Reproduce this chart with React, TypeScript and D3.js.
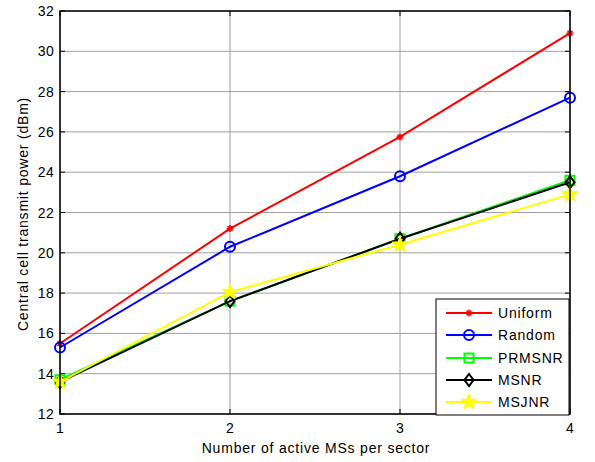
import React from "react";
import * as d3 from "d3";

const xTicks = [1, 2, 3, 4];
const yTicks = [12, 14, 16, 18, 20, 22, 24, 26, 28, 30, 32];
const seriesNames = ["Uniform", "Random", "PRMSNR", "MSNR", "MSJNR"];
const uniform = [15.5, 21.2, 25.75, 30.9];
const random = [15.3, 20.3, 23.8, 27.7];
const prmsnr = [13.7, 17.6, 20.7, 23.6];
const msnr = [13.6, 17.6, 20.7, 23.5];
const msjnr = [13.6, 18.05, 20.4, 22.9];
const colors = ["#ff0000", "#0000ff", "#00ff00", "#000000", "#ffff00"];
const markers = ["asterisk", "circle", "square", "diamond", "star"];

const W = 595, H = 462;
const L = 60, R = 570, T = 11, B = 414;

function Marker({ type, x, y, color }: { type: string; x: number; y: number; color: string }) {
  if (type === "asterisk") {
    const r = 3.5;
    const d = r * 0.707;
    return (
      <g stroke={color} strokeWidth={1.5}>
        <line x1={x - r} y1={y} x2={x + r} y2={y} />
        <line x1={x} y1={y - r} x2={x} y2={y + r} />
        <line x1={x - d} y1={y - d} x2={x + d} y2={y + d} />
        <line x1={x - d} y1={y + d} x2={x + d} y2={y - d} />
      </g>
    );
  }
  if (type === "circle") return <circle cx={x} cy={y} r={5} fill="none" stroke={color} strokeWidth={2} />;
  if (type === "square") return <rect x={x - 4.5} y={y - 4.5} width={9} height={9} fill="none" stroke={color} strokeWidth={2} />;
  if (type === "diamond") {
    const r = 6;
    return <path d={`M${x},${y - r}L${x + r * 0.75},${y}L${x},${y + r}L${x - r * 0.75},${y}Z`} fill="none" stroke={color} strokeWidth={2} />;
  }
  const pts: string[] = [];
  const ro = 8.5, ri = 3.4;
  for (let i = 0; i < 10; i++) {
    const a = -Math.PI / 2 + (i * Math.PI) / 5;
    const rr = i % 2 === 0 ? ro : ri;
    pts.push(`${x + rr * Math.cos(a)},${y + rr * Math.sin(a)}`);
  }
  return <polygon points={pts.join(" ")} fill={color} stroke={color} strokeWidth={1} />;
}

export default function App() {
  const x = d3.scaleLinear().domain([1, 4]).range([L, R]);
  const y = d3.scaleLinear().domain([12, 32]).range([B, T]);
  const data = [uniform, random, prmsnr, msnr, msjnr];
  const line = d3.line<number>().x((_, i) => x(xTicks[i])).y((d) => y(d));
  const font = "'Liberation Sans', Arial, sans-serif";
  const tl = 5;
  const legX = 436, legY = 299, legW = 133, legH = 116;
  const rowY = [313, 335, 358, 380, 402];
  const ls = 0.8;

  return (
    <svg width={W} height={H} style={{ position: "absolute", left: 0, top: 0, background: "#fff" }} fontFamily={font}>
      <rect x={0} y={0} width={W} height={H} fill="#fff" />
      {xTicks.map((t) => (
        <line key={"gx" + t} x1={x(t)} x2={x(t)} y1={T} y2={B} stroke="#a0a0a0" strokeWidth={1} />
      ))}
      {yTicks.map((t) => (
        <line key={"gy" + t} x1={L} x2={R} y1={y(t)} y2={y(t)} stroke="#a0a0a0" strokeWidth={1} />
      ))}
      {xTicks.map((t) => (
        <g key={"tx" + t} stroke="#000">
          <line x1={x(t)} x2={x(t)} y1={B} y2={B - tl} />
          <line x1={x(t)} x2={x(t)} y1={T} y2={T + tl} />
        </g>
      ))}
      {yTicks.map((t) => (
        <g key={"ty" + t} stroke="#000">
          <line x1={L} x2={L + tl} y1={y(t)} y2={y(t)} />
          <line x1={R} x2={R - tl} y1={y(t)} y2={y(t)} />
        </g>
      ))}
      {data.map((s, k) => (
        <g key={"s" + k}>
          <path d={line(s) || ""} fill="none" stroke={colors[k]} strokeWidth={2} />
          {s.map((v, i) => (
            <Marker key={i} type={markers[k]} x={x(xTicks[i])} y={y(v)} color={colors[k]} />
          ))}
        </g>
      ))}
      <rect x={L} y={T} width={R - L} height={B - T} fill="none" stroke="#000" strokeWidth={1.5} />
      {xTicks.map((t) => (
        <text key={"lx" + t} x={x(t)} y={B + 19} fontSize={14} textAnchor="middle">{t}</text>
      ))}
      {yTicks.map((t) => (
        <text key={"ly" + t} x={L - 6} y={y(t) + 5} fontSize={14} letterSpacing={0.3} textAnchor="end">{t}</text>
      ))}
      <text x={316} y={453} fontSize={14} letterSpacing={ls} textAnchor="middle">Number of active MSs per sector</text>
      <text transform={`translate(28,${214}) rotate(-90)`} fontSize={14} letterSpacing={ls} textAnchor="middle">Central cell transmit power (dBm)</text>
      <rect x={legX} y={legY} width={legW} height={legH} fill="#fff" stroke="#000" strokeWidth={1} />
      {seriesNames.map((n, k) => (
        <g key={"lg" + k}>
          <line x1={446} x2={492} y1={rowY[k]} y2={rowY[k]} stroke={colors[k]} strokeWidth={2} />
          <Marker type={markers[k]} x={469} y={rowY[k]} color={colors[k]} />
          <text x={498} y={rowY[k] + 5} fontSize={14} letterSpacing={ls}>{n}</text>
        </g>
      ))}
    </svg>
  );
}
